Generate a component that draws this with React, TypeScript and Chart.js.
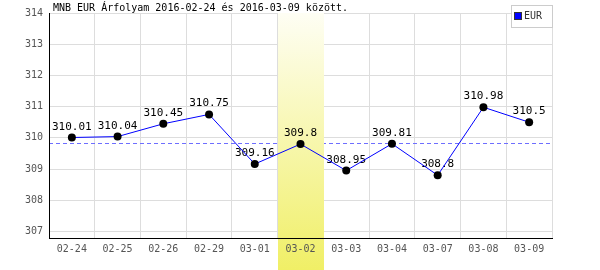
import React, { useEffect, useRef } from "react";
import { Chart, registerables } from "chart.js";

Chart.register(...registerables);

const TITLE = "MNB EUR Árfolyam 2016-02-24 és 2016-03-09 között.";
const categories = ["02-24", "02-25", "02-26", "02-29", "03-01", "03-02", "03-03", "03-04", "03-07", "03-08", "03-09"];
const eurValues = [310.01, 310.04, 310.45, 310.75, 309.16, 309.8, 308.95, 309.81, 308.8, 310.98, 310.5];
const valueLabels = ["310.01", "310.04", "310.45", "310.75", "309.16", "309.8", "308.95", "309.81", "308.8", "310.98", "310.5"];
const yTickValues = [307, 308, 309, 310, 311, 312, 313, 314];
const seriesName = "EUR";
const highlightCategory = "03-02";
const referenceLevel = 309.82;
const yMin = 306.79;
const yMax = 314;

const MONO = '"DejaVu Sans Mono", monospace';

const overlay = {
  id: "overlay",
  beforeDatasetsDraw(chart: any) {
    const { ctx, chartArea: a, scales } = chart;
    const x = scales.x;
    const y = scales.y;
    ctx.save();
    // dashed reference line
    const yr = Math.round(y.getPixelForValue(referenceLevel)) + 0.5;
    ctx.strokeStyle = "rgb(110,110,255)";
    ctx.lineWidth = 1;
    ctx.setLineDash([4, 3]);
    ctx.beginPath();
    ctx.moveTo(a.left, yr);
    ctx.lineTo(a.right, yr);
    ctx.stroke();
    ctx.setLineDash([]);
    // highlight band
    const i = categories.indexOf(highlightCategory);
    const cx = x.getPixelForValue(i);
    const half = (x.getPixelForValue(1) - x.getPixelForValue(0)) / 2;
    const g = ctx.createLinearGradient(0, a.top, 0, chart.height);
    g.addColorStop(0, "#fefef4");
    g.addColorStop(1, "#f0ef66");
    ctx.fillStyle = g;
    ctx.fillRect(Math.round(cx - half), a.top, Math.round(2 * half), chart.height - a.top);
    // value labels
    ctx.fillStyle = "#000";
    ctx.font = "11px " + MONO;
    ctx.textAlign = "center";
    ctx.textBaseline = "alphabetic";
    eurValues.forEach((v, k) => {
      ctx.fillText(valueLabels[k], x.getPixelForValue(k), y.getPixelForValue(v) - 8);
    });
    ctx.restore();
  },
  afterDraw(chart: any) {
    const { ctx } = chart;
    ctx.save();
    // title
    ctx.fillStyle = "#000";
    ctx.font = "10px " + MONO;
    ctx.textAlign = "left";
    ctx.textBaseline = "middle";
    ctx.fillText(TITLE, 53, 8);
    // legend
    ctx.fillStyle = "#fff";
    ctx.fillRect(511, 5, 41, 22);
    ctx.strokeStyle = "#cccccc";
    ctx.lineWidth = 1;
    ctx.strokeRect(511.5, 5.5, 41, 22);
    ctx.fillStyle = "#0000ff";
    ctx.fillRect(515, 13, 6, 6);
    ctx.strokeStyle = "#333";
    ctx.strokeRect(514.5, 12.5, 7, 7);
    ctx.fillStyle = "#333";
    ctx.fillText(seriesName, 524, 16.5);
    ctx.restore();
  },
};

export default function App() {
  const ref = useRef<HTMLCanvasElement | null>(null);
  useEffect(() => {
    if (!ref.current) return;
    const chart = new Chart(ref.current, {
      type: "line",
      data: {
        labels: categories,
        datasets: [
          {
            label: seriesName,
            data: eurValues,
            borderColor: "#0000ff",
            borderWidth: 1,
            tension: 0,
            pointRadius: 4,
            pointBackgroundColor: "#000",
            pointBorderColor: "#000",
            pointBorderWidth: 0,
          },
        ],
      },
      options: {
        animation: false,
        responsive: false,
        devicePixelRatio: 1,
        layout: { padding: { top: 13, right: 48, left: 0, bottom: 0 } },
        plugins: { legend: { display: false }, title: { display: false }, tooltip: { enabled: false } },
        scales: {
          x: {
            type: "category",
            offset: true,
            grid: { offset: true, color: "#dddddd", drawTicks: false },
            border: { display: true, color: "#000", width: 1, z: 1 },
            ticks: { color: "#555", font: { family: MONO, size: 10 }, padding: 5, z: 1, maxRotation: 0, autoSkip: false },
            afterFit: (s: any) => {
              s.height = 32;
            },
          },
          y: {
            min: yMin,
            max: yMax,
            grid: { color: "#dddddd", drawTicks: false },
            border: { display: true, color: "#000", width: 1, z: 1 },
            ticks: { color: "#555", font: { family: MONO, size: 10 }, padding: 6, z: 1, autoSkip: false },
            afterBuildTicks: (s: any) => {
              s.ticks = yTickValues.map((v) => ({ value: v }));
            },
            afterFit: (s: any) => {
              s.width = 49;
            },
          },
        },
      },
      plugins: [overlay],
    });
    return () => chart.destroy();
  }, []);
  return (
    <div style={{ position: "fixed", left: 0, top: 0, width: 600, height: 270, background: "#fff" }}>
      <canvas ref={ref} width={600} height={270} style={{ width: 600, height: 270, display: "block" }} />
    </div>
  );
}
